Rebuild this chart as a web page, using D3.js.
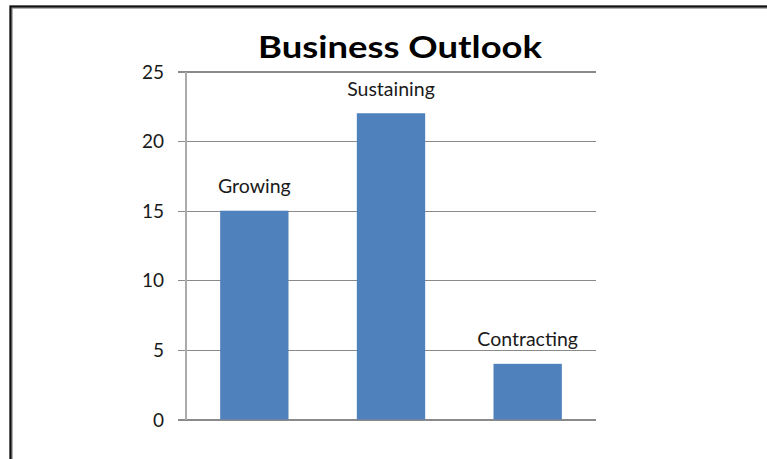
<!DOCTYPE html>
<html>
<head>
<meta charset="utf-8">
<script src="https://cdn.jsdelivr.net/npm/d3@7"></script>
<style>
  html, body { margin: 0; padding: 0; background: #fff; }
  svg { display: block; }
</style>
</head>
<body>
<svg id="chart" width="767" height="459"></svg>
<script>
// Chart data
const categories = ["Growing", "Sustaining", "Contracting"];
const values = [15, 22, 4];
const yTicks = [0, 5, 10, 15, 20, 25];
const title = "Business Outlook";

const svg = d3.select("#chart");
const W = 767, H = 459;

// Frame around the chart area (open at the right and bottom edges)
svg.append("path")
  .attr("d", `M11,${H} L11,7 L${W},7`)
  .attr("fill", "none")
  .attr("stroke", "#9a9a9a")
  .attr("stroke-width", 3.5);
svg.append("path")
  .attr("d", `M10.5,${H} L10.5,6.5 L${W},6.5`)
  .attr("fill", "none")
  .attr("stroke", "#111")
  .attr("stroke-width", 2);

const plot = { left: 186, right: 596, top: 71.5, bottom: 419.5 };

const x = d3.scaleBand()
  .domain(categories)
  .range([plot.left, plot.right])
  .paddingInner(0.5)
  .paddingOuter(0.25);

const y = d3.scaleLinear()
  .domain([0, 25])
  .range([plot.bottom, plot.top]);

const font = "Lato, 'Open Sans', sans-serif";

// Horizontal gridlines with outside tick marks
const yAxis = d3.axisLeft(y)
  .tickValues(yTicks)
  .tickSize(plot.right - plot.left + 8)
  .tickFormat(d3.format("d"));

const gy = svg.append("g")
  .attr("transform", `translate(${plot.right},0)`)
  .call(yAxis);
gy.select(".domain").remove();
gy.selectAll(".tick line")
  .attr("stroke", "#8a8a8a")
  .attr("stroke-width", 1.3)
  .attr("shape-rendering", "crispEdges");
gy.selectAll(".tick text")
  .attr("x", -(plot.right - plot.left) - 22)
  .attr("dy", "0.35em")
  .attr("fill", "#1a1a1a")
  .style("font-family", font)
  .style("font-size", "19px");

// Vertical axis line
svg.append("line")
  .attr("x1", plot.left).attr("x2", plot.left)
  .attr("y1", plot.top).attr("y2", plot.bottom)
  .attr("stroke", "#ababab")
  .attr("stroke-width", 1.3)
  .attr("shape-rendering", "crispEdges");

// Bars
svg.append("g").selectAll("rect")
  .data(categories)
  .join("rect")
  .attr("x", d => x(d))
  .attr("width", x.bandwidth())
  .attr("y", (d, i) => y(values[i]))
  .attr("height", (d, i) => y(0) - y(values[i]))
  .attr("fill", "#4f81bd");

// Category labels above each bar
svg.append("g").selectAll("text")
  .data(categories)
  .join("text")
  .attr("x", d => x(d) + x.bandwidth() / 2)
  .attr("y", (d, i) => y(values[i]) - 17.5)
  .attr("text-anchor", "middle")
  .attr("fill", "#1a1a1a")
  .style("font-family", font)
  .style("font-size", "19.5px")
  .text(d => d);

// Title
svg.append("text")
  .attr("x", 400)
  .attr("y", 58)
  .attr("text-anchor", "middle")
  .attr("fill", "#000")
  .style("font-family", font)
  .style("font-weight", "bold")
  .style("font-size", "30px")
  .attr("textLength", 284)
  .attr("lengthAdjust", "spacingAndGlyphs")
  .text(title);
</script>
</body>
</html>
